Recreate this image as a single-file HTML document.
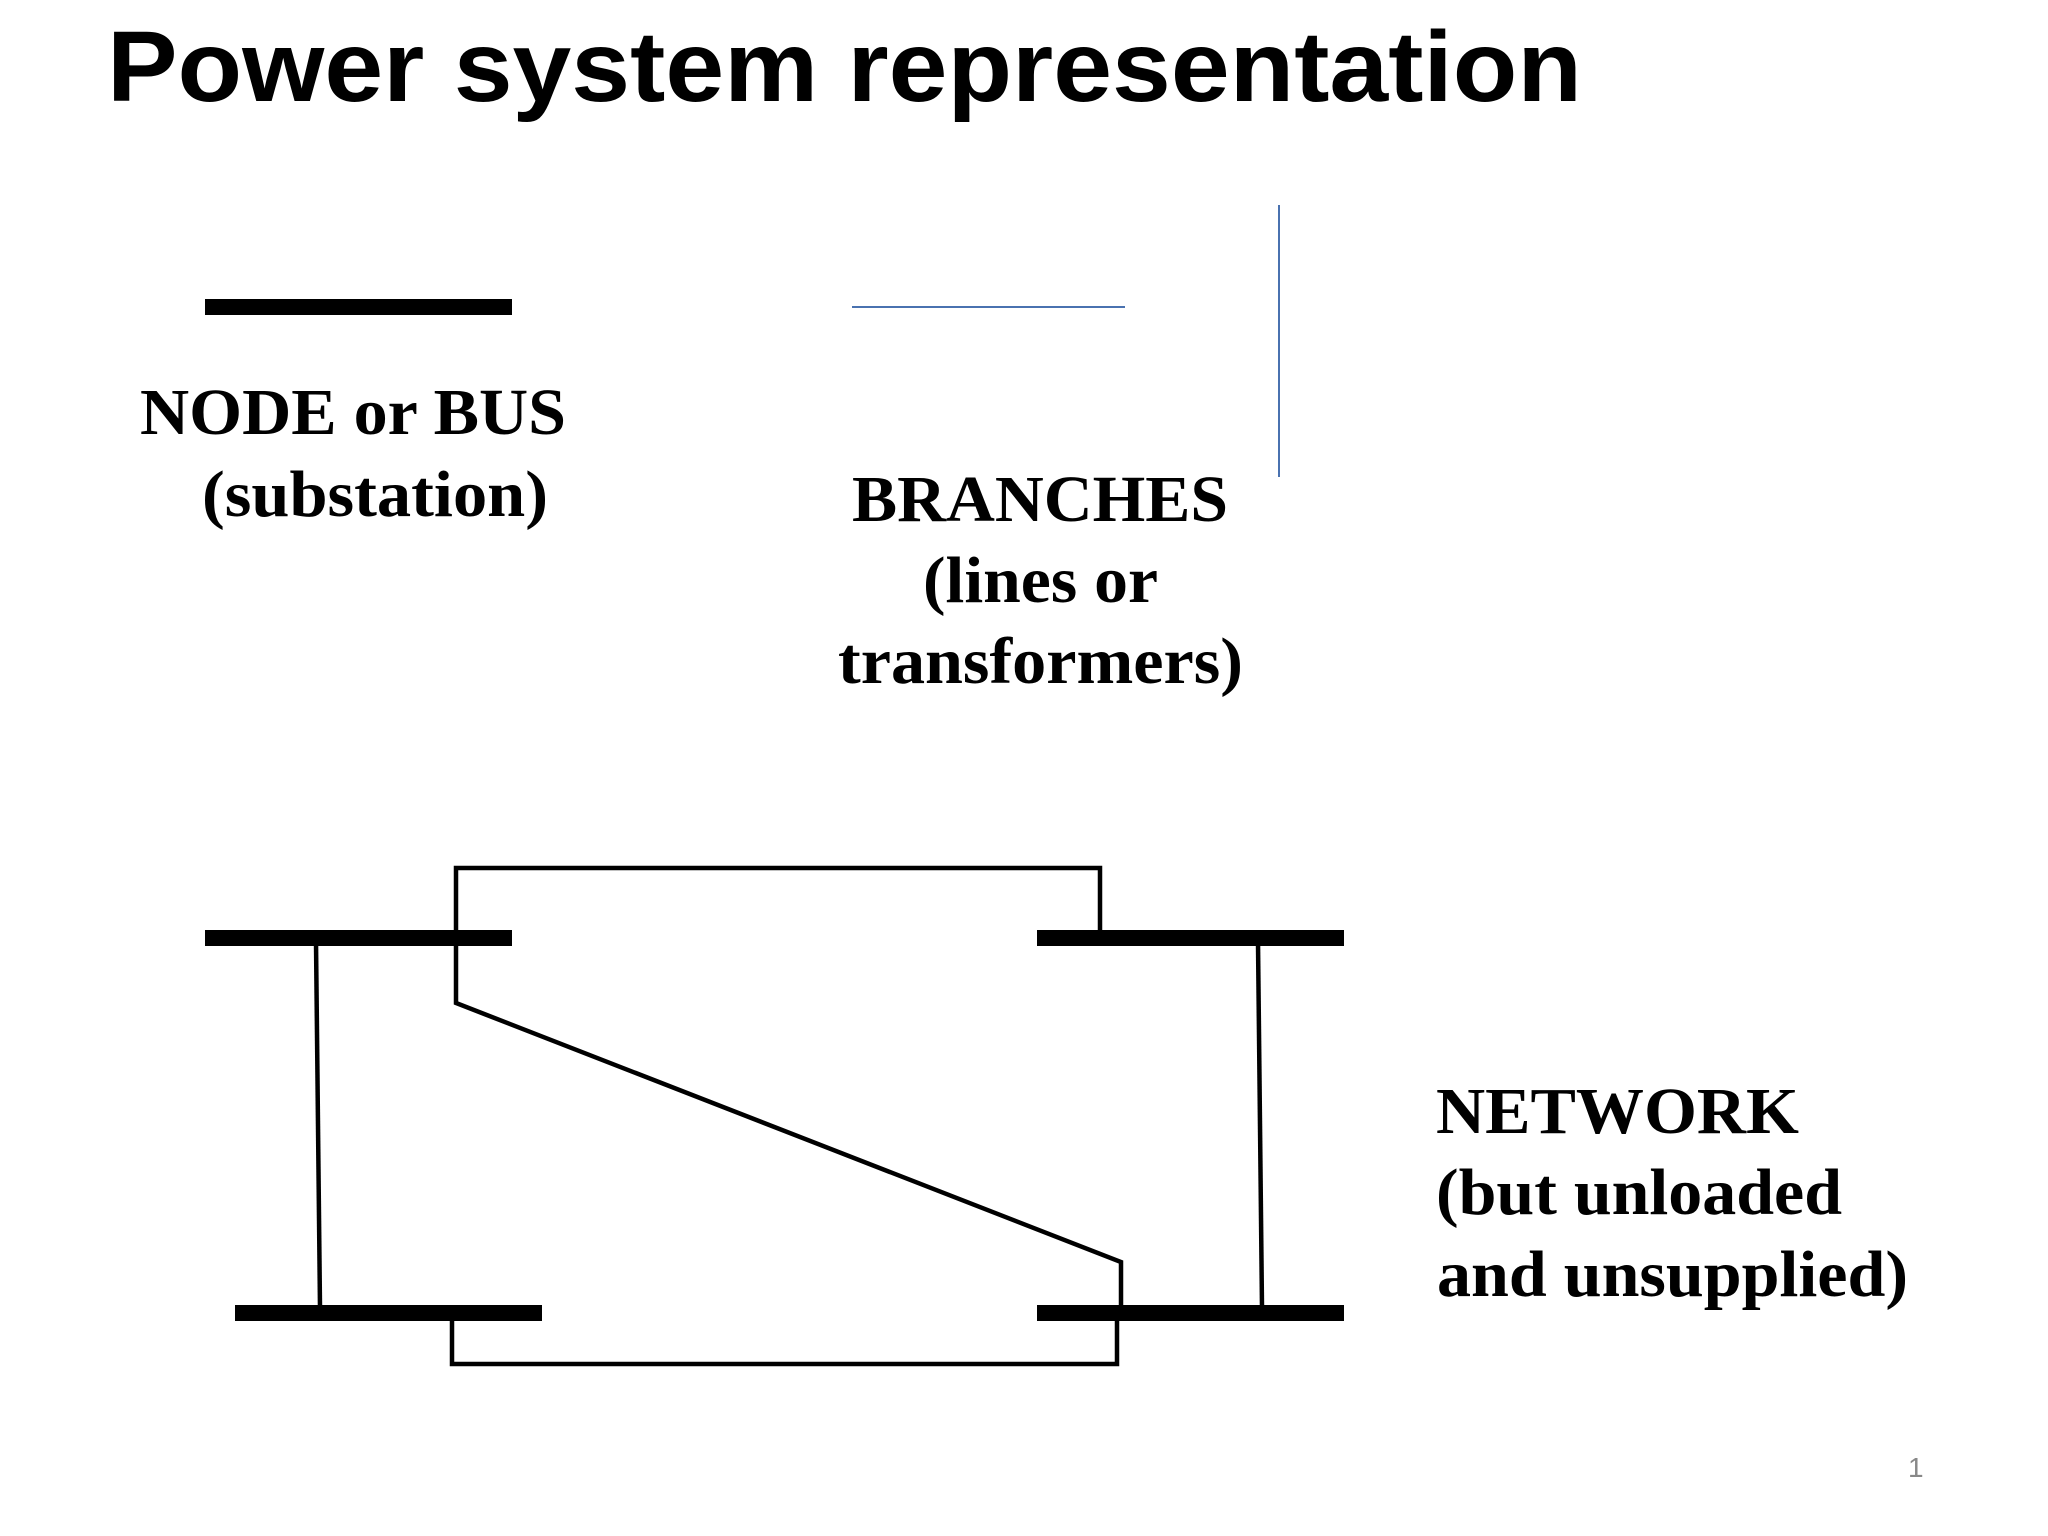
<!DOCTYPE html>
<html><head><meta charset="utf-8"><style>
html,body{margin:0;padding:0;background:#fff;}
svg{display:block;}
</style></head><body>
<svg width="2048" height="1536" viewBox="0 0 2048 1536" xmlns="http://www.w3.org/2000/svg">
<rect width="2048" height="1536" fill="#fff"/>
<text x="107" y="101" font-family="Liberation Sans, sans-serif" font-weight="bold" font-size="100" textLength="1475" lengthAdjust="spacingAndGlyphs">Power system representation</text>
<rect x="205" y="299" width="307" height="16" fill="#000"/>
<line x1="852" y1="307" x2="1125" y2="307" stroke="#4a72b0" stroke-width="2"/>
<line x1="1279" y1="205" x2="1279" y2="477" stroke="#4a72b0" stroke-width="2"/>
<g font-family="Liberation Serif, serif" font-weight="bold" font-size="66" fill="#000">
<text x="140" y="434" textLength="426" lengthAdjust="spacingAndGlyphs">NODE or BUS</text>
<text x="202" y="516" textLength="346" lengthAdjust="spacingAndGlyphs">(substation)</text>
<text x="852" y="521" textLength="376" lengthAdjust="spacingAndGlyphs">BRANCHES</text>
<text x="923" y="602" textLength="235" lengthAdjust="spacingAndGlyphs">(lines or</text>
<text x="838" y="683" textLength="405" lengthAdjust="spacingAndGlyphs">transformers)</text>
<text x="1436" y="1133" textLength="363" lengthAdjust="spacingAndGlyphs">NETWORK</text>
<text x="1436" y="1214" textLength="406" lengthAdjust="spacingAndGlyphs">(but unloaded</text>
<text x="1437" y="1296" textLength="471" lengthAdjust="spacingAndGlyphs">and unsupplied)</text>
</g>
<text x="1908" y="1477" font-family="Liberation Sans, sans-serif" font-size="28" fill="#888">1</text>
<g fill="#000">
<rect x="205" y="930" width="307" height="16"/>
<rect x="1037" y="930" width="307" height="16"/>
<rect x="235" y="1305" width="307" height="16"/>
<rect x="1037" y="1305" width="307" height="16"/>
</g>
<g fill="none" stroke="#000" stroke-width="4.5" stroke-linejoin="miter">
<polyline points="456,936 456,868 1100,868 1100,932"/>
<polyline points="456,936 456,1003 1121,1262 1121,1310"/>
<polyline points="452,1316 452,1364 1117,1364 1117,1316"/>
<line x1="316" y1="942" x2="320" y2="1308"/>
<line x1="1258" y1="942" x2="1262" y2="1308"/>
</g>
</svg>
</body></html>
